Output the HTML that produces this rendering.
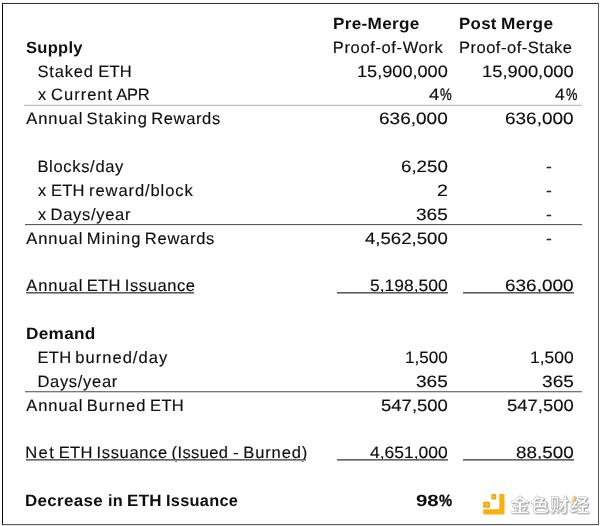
<!DOCTYPE html>
<html lang="en"><head><meta charset="utf-8"><title>ETH Issuance: Pre-Merge vs Post Merge</title>
<style>
html,body{margin:0;padding:0;background:#fff;}
body{width:600px;height:526px;position:relative;overflow:hidden;font-family:"Liberation Sans","Noto Sans CJK SC",sans-serif;font-size:16.5px;color:#0e0e0e;text-rendering:geometricPrecision;}
.r{position:absolute;left:0;width:600px;height:20px;line-height:20px;white-space:nowrap;-webkit-text-stroke:0.15px #0e0e0e;}
.r span{position:absolute;top:0;display:block;white-space:nowrap;transform-origin:0 0;}
.b{font-weight:bold;font-size:16.3px;-webkit-text-stroke:0;}
.d{-webkit-text-stroke:0.2px #2a2a2a;color:#2a2a2a;}
.p{-webkit-text-stroke:0.35px #0e0e0e;}
.b .p{-webkit-text-stroke:0.3px #0e0e0e;}
.hl{position:absolute;height:1px;background:#777;}
.ul{position:absolute;height:2px;background:linear-gradient(#5c5c5c 0 50%,#a0a0a0 50% 100%);}
.u2{background:linear-gradient(#666 0 50%,#999 50% 100%);}
</style></head><body>
<div class="r b" style="top:38px"><span style="left:25.65px;letter-spacing:0.300px;transform:scaleX(1.0138);">Supply</span></div>
<div class="r" style="top:62px"><span style="left:37.45px;letter-spacing:0.836px;">Staked</span> <span style="left:98.23px;letter-spacing:0.271px;">ETH</span></div>
<div class="r" style="top:85px"><span style="left:37.71px;transform:scaleX(0.9894);">x</span> <span style="left:51.11px;letter-spacing:0.986px;">Current</span> <span style="left:116.19px;letter-spacing:-0.198px;">APR</span></div>
<div class="r" style="top:109px"><span style="left:26.33px;letter-spacing:0.926px;">Annual</span> <span style="left:86.54px;letter-spacing:0.882px;">Staking</span> <span style="left:151.23px;letter-spacing:0.642px;">Rewards</span></div>
<div class="r" style="top:157px"><span style="left:37.43px;letter-spacing:0.683px;">Blocks/day</span></div>
<div class="r" style="top:181px"><span style="left:37.71px;transform:scaleX(0.9894);">x</span> <span style="left:51.10px;letter-spacing:0.175px;">ETH</span> <span style="left:89.05px;letter-spacing:0.920px;">reward/block</span></div>
<div class="r" style="top:205px"><span style="left:37.71px;transform:scaleX(0.9894);">x</span> <span style="left:50.61px;letter-spacing:0.688px;">Days/year</span></div>
<div class="r" style="top:229px"><span style="left:26.33px;letter-spacing:0.926px;">Annual</span> <span style="left:86.69px;letter-spacing:1.030px;">Mining</span> <span style="left:144.87px;letter-spacing:0.720px;">Rewards</span></div>
<div class="r" style="top:276px"><span style="left:26.33px;letter-spacing:0.926px;">Annual</span> <span style="left:86.69px;letter-spacing:0.393px;">ETH</span> <span style="left:124.76px;letter-spacing:0.597px;">Issuance</span></div>
<div class="r b" style="top:324px"><span style="left:25.72px;letter-spacing:0.300px;transform:scaleX(1.0543);">Demand</span></div>
<div class="r" style="top:348px"><span style="left:37.44px;letter-spacing:0.316px;">ETH</span> <span style="left:75.29px;letter-spacing:1.032px;">burned/day</span></div>
<div class="r" style="top:372px"><span style="left:37.44px;letter-spacing:0.693px;">Days/year</span></div>
<div class="r" style="top:396px"><span style="left:26.33px;letter-spacing:0.926px;">Annual</span> <span style="left:86.69px;letter-spacing:1.126px;">Burned</span> <span style="left:150.12px;letter-spacing:0.333px;">ETH</span></div>
<div class="r" style="top:443px"><span style="left:25.16px;letter-spacing:1.449px;">Net</span> <span style="left:58.69px;letter-spacing:0.393px;">ETH</span> <span style="left:96.55px;letter-spacing:0.649px;">Issuance</span> <span style="left:171.62px;letter-spacing:0.385px;">(Issued</span> <span style="left:233.32px;transform:scaleX(1.0212);">-</span> <span style="left:243.22px;letter-spacing:0.902px;">Burned)</span></div>
<div class="r b" style="top:491px"><span style="left:24.96px;letter-spacing:0.300px;transform:scaleX(1.0409);">Decrease</span> <span style="left:107.57px;letter-spacing:0.300px;transform:scaleX(0.9987);">in</span> <span style="left:126.74px;letter-spacing:0.300px;transform:scaleX(1.0445);">ETH</span> <span style="left:165.84px;letter-spacing:0.300px;transform:scaleX(1.0022);">Issuance</span></div>
<div class="r b" style="top:14px"><span style="left:332.74px;letter-spacing:0.300px;transform:scaleX(1.0528);">Pre-Merge</span></div>
<div class="r" style="top:38px"><span style="left:332.87px;letter-spacing:0.623px;">Proof-of-Work</span></div>
<div class="r" style="top:62px"><span style="left:356.70px;transform:scaleX(1.0996);">15,900,000</span></div>
<div class="r" style="top:85px"><span style="left:429.15px;transform:scaleX(1.1246);">4</span><span class="p" style="left:439.93px;transform:scaleX(0.7971);">%</span></div>
<div class="r" style="top:109px"><span style="left:378.71px;transform:scaleX(1.1525);">636,000</span></div>
<div class="r" style="top:157px"><span style="left:400.71px;transform:scaleX(1.1337);">6,250</span></div>
<div class="r" style="top:181px"><span style="left:436.93px;transform:scaleX(1.1858);">2</span></div>
<div class="r" style="top:205px"><span style="left:415.75px;transform:scaleX(1.1553);">365</span></div>
<div class="r" style="top:229px"><span style="left:364.89px;transform:scaleX(1.1273);">4,562,500</span></div>
<div class="r" style="top:276px"><span style="left:369.54px;transform:scaleX(1.0572);">5,198,500</span></div>
<div class="r" style="top:348px"><span style="left:404.56px;transform:scaleX(1.0335);">1,500</span></div>
<div class="r" style="top:372px"><span style="left:415.75px;transform:scaleX(1.1553);">365</span></div>
<div class="r" style="top:396px"><span style="left:380.76px;transform:scaleX(1.1219);">547,500</span></div>
<div class="r" style="top:443px"><span style="left:369.72px;transform:scaleX(1.0591);">4,651,000</span></div>
<div class="r b" style="top:491px"><span style="left:416.04px;transform:scaleX(1.2557);">98</span><span class="p" style="left:438.77px;transform:scaleX(0.9064);">%</span></div>
<div class="r b" style="top:14px"><span style="left:458.77px;letter-spacing:0.300px;transform:scaleX(1.0350);">Post</span> <span style="left:500.68px;letter-spacing:0.300px;transform:scaleX(1.0574);">Merge</span></div>
<div class="r" style="top:38px"><span style="left:458.94px;letter-spacing:0.516px;">Proof-of-Stake</span></div>
<div class="r" style="top:62px"><span style="left:481.67px;transform:scaleX(1.1112);">15,900,000</span></div>
<div class="r" style="top:85px"><span style="left:555.28px;transform:scaleX(1.0525);">4</span><span class="p" style="left:565.69px;transform:scaleX(0.7757);">%</span></div>
<div class="r" style="top:109px"><span style="left:504.67px;transform:scaleX(1.1494);">636,000</span></div>
<div class="r d" style="top:157px"><span style="left:545.60px;transform:scaleX(1.0480);">-</span></div>
<div class="r d" style="top:181px"><span style="left:545.60px;transform:scaleX(1.0480);">-</span></div>
<div class="r d" style="top:205px"><span style="left:545.60px;transform:scaleX(1.0480);">-</span></div>
<div class="r d" style="top:229px"><span style="left:545.60px;transform:scaleX(1.0480);">-</span></div>
<div class="r" style="top:276px"><span style="left:504.67px;transform:scaleX(1.1494);">636,000</span></div>
<div class="r" style="top:348px"><span style="left:530.24px;transform:scaleX(1.0578);">1,500</span></div>
<div class="r" style="top:372px"><span style="left:541.61px;transform:scaleX(1.1580);">365</span></div>
<div class="r" style="top:396px"><span style="left:506.68px;transform:scaleX(1.1184);">547,500</span></div>
<div class="r" style="top:443px"><span style="left:516.27px;transform:scaleX(1.1414);">88,500</span></div>
<div class="frame" style="position:absolute;left:2px;top:3px;width:597px;height:522px;box-sizing:border-box;border-style:solid;border-width:1px;border-color:#343434 #5a5a5a #5e5e5e #050505;"></div>
<div class="hl" style="left:2px;width:597px;top:2px;background:#f1f1f1"></div>
<div class="hl" style="left:2px;width:597px;top:525px;background:#e2e2e2"></div>
<div class="hl" style="left:24px;width:558px;top:104px;background:#f0f0f0"></div>
<div class="hl" style="left:24px;width:558px;top:105px;background:#bdbdbd"></div>
<div class="hl" style="left:25px;width:557px;top:224px;background:#595959"></div>
<div class="hl" style="left:25px;width:557px;top:225px;background:#ebebeb"></div>
<div class="hl" style="left:25px;width:557px;top:391px;background:#767676"></div>
<div class="hl" style="left:25px;width:557px;top:392px;background:#d2d2d2"></div>
<div class="ul" style="left:26px;width:168px;top:292px"></div>
<div class="ul" style="left:337px;width:111px;top:292px"></div>
<div class="ul" style="left:463px;width:111px;top:292px"></div>
<div class="ul u2" style="left:26px;width:280px;top:459px"></div>
<div class="ul u2" style="left:337px;width:111px;top:459px"></div>
<div class="ul u2" style="left:463px;width:111px;top:459px"></div>
<svg class="logo" style="position:absolute;left:482px;top:493px" width="24" height="23" viewBox="0 0 24 23" aria-hidden="true">
<path d="M17.3 1.9q0-.8.8-.8h3.6q.8 0 .8.800v18.8q0 .8-.8.800H2q-.8 0-.8-.8v-3.600q0-.8.8-.8h14.500q.8 0 .8-.8z" fill="#fdb00d"/>
<rect x="9.4" y="1.1" width="4.9" height="5.5" rx="0.9" fill="#e3a816"/>
<rect x="10.6" y="2.4" width="2.5" height="2.9" rx="0.8" fill="#f6c21a"/>
<rect x="1.2" y="8.7" width="6.7" height="6.1" rx="0.9" fill="#e3a816"/>
<rect x="2.7" y="10.1" width="3.7" height="3.3" rx="0.9" fill="#f6c21a"/>
</svg>
<div class="wm" style="position:absolute;left:510.5px;top:494px;font-family:'Liberation Sans','Noto Sans CJK SC',sans-serif;font-weight:bold;font-size:19px;line-height:26px;letter-spacing:0.8px;color:#fbfbfb;-webkit-text-stroke:0.5px #b8b8b8;text-shadow:1px 1px 1px #9a9a9a;white-space:nowrap;">金色财经</div>
<div style="position:absolute;left:573px;top:496px;width:2px;height:7px;background:#e9c94a;transform:skewX(-18deg);opacity:.85"></div>

</body></html>
